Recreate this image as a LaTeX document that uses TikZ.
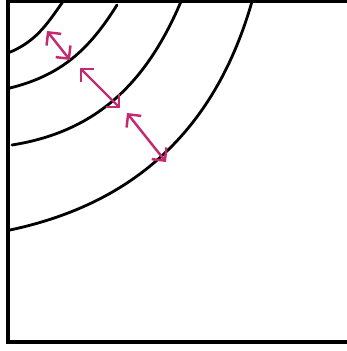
\documentclass[tikz,border=0pt]{standalone}
\usetikzlibrary{arrows.meta}
\definecolor{gapmag}{RGB}{196,42,112}
\tikzset{
  wall/.style={line width=2.7pt,line join=miter},
  front/.style={line width=2.4pt,line cap=round},
  gap/.style={gapmag,line width=2.1pt,line cap=round,{Straight Barb[length=8pt,width=16pt]}-{Straight Barb[length=8pt,width=16pt]}}
}
\begin{document}
\begin{tikzpicture}[x=0.03cm,y=0.03cm]
\useasboundingbox (0,0) rectangle (347,351);
\coordinate (tr) at (347,349.5);
\coordinate (tl) at (8,349.5);
\coordinate (bl) at (8,9);
\coordinate (br) at (347,9);
\draw[wall] (tr) -- (tl) -- (bl) -- (br);
\coordinate (c1l) at (8,298);   \coordinate (c1t) at (63,349.5);
\coordinate (c2l) at (10,263);  \coordinate (c2t) at (117,346);
\coordinate (c3l) at (12,206);  \coordinate (c3t) at (181,349.5);
\coordinate (c4l) at (10,121);  \coordinate (c4t) at (252,349.5);
\draw[front] (c1l) to[out=22,in=-125] (c1t);
\draw[front] (c2l) to[out=14,in=-122] (c2t);
\draw[front] (c3l) to[out=9,in=-113] (c3t);
\draw[front] (c4l) to[out=12,in=-106] (c4t);
\coordinate (a1s) at (47,320);  \coordinate (a1e) at (70,291);
\coordinate (a2s) at (80,283);  \coordinate (a2e) at (120,243);
\coordinate (a3s) at (127,238); \coordinate (a3e) at (166,189);
\draw[gap] (a1s) -- (a1e);
\draw[gap] (a2s) -- (a2e);
\draw[gap] (a3s) -- (a3e);
\end{tikzpicture}
\end{document}
